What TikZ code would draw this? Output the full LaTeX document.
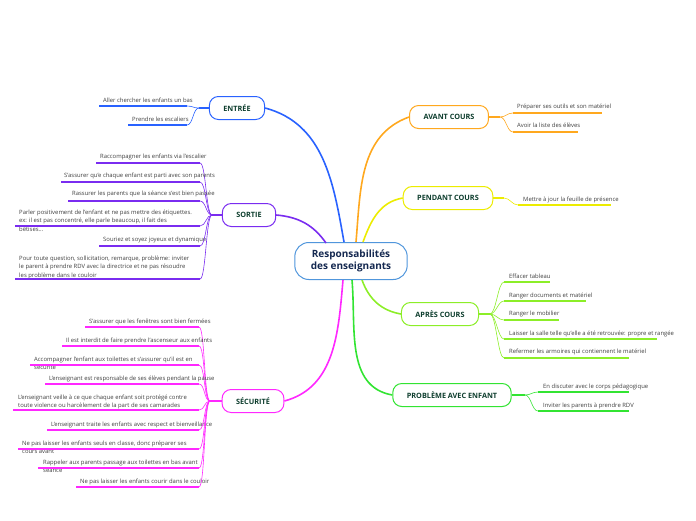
\documentclass[tikz,border=0pt]{standalone}
\usepackage{fontspec}
\setmainfont{Open Sans}
\usetikzlibrary{calc}
\definecolor{cEntree}{RGB}{41,98,255}
\definecolor{cSortie}{RGB}{122,44,240}
\definecolor{cSecu}{RGB}{255,40,255}
\definecolor{cAvant}{RGB}{255,168,30}
\definecolor{cPendant}{RGB}{236,236,0}
\definecolor{cApres}{RGB}{140,238,40}
\definecolor{cProb}{RGB}{50,228,50}
\definecolor{cCentre}{RGB}{80,150,220}
\definecolor{titletext}{RGB}{20,40,80}
\definecolor{branchtext}{RGB}{14,62,46}
\definecolor{leaftext}{RGB}{64,64,64}

\begin{document}
\begin{tikzpicture}[
  x=1pt, y=-1pt,
  centre/.style={draw=cCentre, line width=1pt, rounded corners=14pt, fill=white,
                 minimum height=37pt, inner xsep=16pt, align=center, text=titletext,
                 font=\fontsize{10}{12}\selectfont\bfseries},
  branch/.style={draw, line width=1pt, rounded corners=9pt, fill=white,
                 minimum height=23pt, inner xsep=14pt, text=branchtext,
                 font=\fontsize{7.3}{8}\selectfont\bfseries},
  leaf/.style={anchor=north west, inner sep=0pt, align=left, text=leaftext,
               font=\fontsize{5.9}{8.5}\selectfont},
  limb/.style={line width=1.6pt},
  stem/.style={line width=1.3pt},
  ul/.style={line width=1.5pt},
  twig/.style={line width=0.6pt, out distance=6pt, in distance=6pt},
]
\useasboundingbox (0,0) rectangle (696,520);

% centre and main branches
\node[centre] (centre) at (351,261) {Responsabilités\\des enseignants};
\node[branch, draw=cEntree] (entree) at (237,108) {ENTRÉE};
\node[branch, draw=cSortie] (sortie) at (249,215) {SORTIE};
\node[branch, draw=cSecu] (securite) at (253,401) {SÉCURITÉ};
\node[branch, draw=cAvant] (avant) at (449,117) {AVANT COURS};
\node[branch, draw=cPendant] (pendant) at (448,198) {PENDANT COURS};
\node[branch, draw=cApres] (apres) at (440,314) {APRÈS COURS};
\node[branch, draw=cProb] (probleme) at (452,395) {PROBLÈME AVEC ENFANT};

\draw[limb, cEntree] ($(centre.north)+(-7,0)$) to[out=100, in=-15] (entree.east);
\draw[limb, cSortie] ($(centre.north)+(-25,1)$) to[out=125, in=-5] (sortie.east);
\draw[limb, cSecu] ($(centre.south)+(-8,0)$) to[out=-95, in=15] (securite.east);
\draw[limb, cAvant] ($(centre.north)+(5,0)$) to[out=85, in=200] (avant.west);
\draw[limb, cPendant] ($(centre.north)+(12,0)$) to[out=70, in=190] (pendant.west);
\draw[limb, cApres] ($(centre.south)+(11,0)$) to[out=-70, in=170] (apres.west);
\draw[limb, cProb] ($(centre.south)+(1,0)$) to[out=-85, in=170] (probleme.west);

% hubs
\coordinate (eh) at (199,108);
\coordinate (sh) at (212,215);
\coordinate (ch) at (210,401);
\coordinate (ah) at (500,117);
\coordinate (ph) at (504,198);
\coordinate (rh) at (490,314);
\coordinate (bh) at (525,395);
\draw[stem, cEntree] (entree.west) -- (eh);
\draw[stem, cSortie] (sortie.west) -- (sh);
\draw[stem, cSecu] (securite.west) -- (ch);
\draw[stem, cAvant] (avant.east) -- (ah);
\draw[stem, cPendant] (pendant.east) -- (ph);
\draw[stem, cApres] (apres.east) -- (rh);
\draw[stem, cProb] (probleme.east) -- (bh);

% ENTREE
\foreach \n/\xt/\yt/\xl/\yu/\txt in {
  1/103/97.4/99/106/{Aller chercher les enfants un bas},
  2/132/116.4/128/125/{Prendre les escaliers}}{
  \node[leaf] (e\n) at (\xt,\yt) {\txt};
  \draw[ul, cEntree] (\xl,\yu) -- (187,\yu) coordinate (er\n);
  \draw[twig, cEntree] (eh) to[out=180, in=0] (er\n);
}

% SORTIE
\foreach \n/\xt/\yt/\xl/\yu/\txt in {
  1/100/153.4/96/163/{Raccompagner les enfants via l'escalier},
  2/64/172.4/61/182/{S'assurer qu'e chaque enfant est parti avec son parents},
  3/72/190.4/68/201/{Rassurer les parents que la séance s'est bien passée},
  4/19/209.4/15/226/{Parler positivement de l'enfant et ne pas mettre des étiquettes.\\ ex: il est pas concentré, elle parle beaucoup, il fait des\\bêtises...},
  5/103/236.4/99/246/{Souriez et soyez joyeux et dynamique},
  6/19/255.4/15/279/{Pour toute question, sollicitation, remarque, problème: inviter\\le parent à prendre RDV avec la directrice et ne pas résoudre\\les problème dans le couloir}}{
  \node[leaf] (s\n) at (\xt,\yt) {\txt};
  \draw[ul, cSortie] (\xl,\yu) -- (200,\yu) coordinate (sr\n);
  \draw[twig, cSortie] (sh) to[out=180, in=0] (sr\n);
}

% SECURITE
\foreach \n/\xt/\yt/\xl/\yu/\txt in {
  1/89/318.4/85/327/{S'assurer que les fenêtres sont bien fermées},
  2/66/337.4/62/346/{Il est interdit de faire prendre l'ascenseur aux enfants},
  3/34/356.4/30/365/{Accompagner l'enfant aux toilettes et s'assurer qu'il est en\\sécurité},
  4/49/375.4/45/384/{L'enseignant est responsable de  ses élèves pendant la pause},
  5/18/394.4/13/410/{L'enseignant veille à ce que chaque enfant soit protégé contre\\toute violence ou harcèlement de la part de ses camarades},
  6/51/421.4/47/430/{L'enseignant traite les enfants avec respect et bienveillance},
  7/22/440.4/18/449/{Ne pas laisser les enfants seuls en classe, donc préparer ses\\cours avant},
  8/43/459.4/38/468/{Rappeler aux parents passage aux toilettes en bas avant\\séance},
  9/80/478.4/76/487/{Ne pas laisser les enfants courir dans le couloir}}{
  \node[leaf] (c\n) at (\xt,\yt) {\txt};
  \draw[ul, cSecu] (\xl,\yu) -- (199,\yu) coordinate (cr\n);
  \draw[twig, cSecu] (ch) to[out=180, in=0] (cr\n);
}

% AVANT COURS
\foreach \n/\yt/\xr/\yu/\txt in {
  1/103.4/602/113/{Préparer ses outils et son matériel},
  2/122.4/578/132/{Avoir la liste des élèves}}{
  \node[leaf] (a\n) at (517,\yt) {\txt};
  \draw[ul, cAvant] (513,\yu) coordinate (al\n) -- (\xr,\yu);
  \draw[twig, cAvant] (ah) to[out=0, in=180] (al\n);
}

% PENDANT COURS
\node[leaf] (p1) at (523,196.4) {Mettre à jour la feuille de présence};
\draw[ul, cPendant] (518,205) coordinate (pl1) -- (611,205);
\draw[twig, cPendant] (ph) to[out=0, in=180] (pl1);

% APRES COURS
\foreach \n/\yt/\xr/\yu/\txt in {
  1/273.4/550/282/{Effacer tableau},
  2/292.4/586/301/{Ranger documents et matériel},
  3/310.4/559/320/{Ranger le mobilier},
  4/330.4/657/339/{Laisser la salle telle qu'elle a été retrouvée: propre et rangée},
  5/348.4/629/358/{Refermer les armoires qui contiennent le matériel}}{
  \node[leaf] (r\n) at (509,\yt) {\txt};
  \draw[ul, cApres] (504,\yu) coordinate (rl\n) -- (\xr,\yu);
  \draw[twig, cApres] (rh) to[out=0, in=180] (rl\n);
}

% PROBLEME AVEC ENFANT
\foreach \n/\yt/\yu/\txt in {
  1/383.4/392/{En discuter avec le corps pédagogique},
  2/402.4/411/{Inviter les parents à prendre RDV}}{
  \node[leaf] (b\n) at (543,\yt) {\txt};
  \draw[ul, cProb] (538,\yu) coordinate (bl\n) -- (629,\yu);
  \draw[twig, cProb] (bh) to[out=0, in=180] (bl\n);
}
\end{tikzpicture}
\end{document}
